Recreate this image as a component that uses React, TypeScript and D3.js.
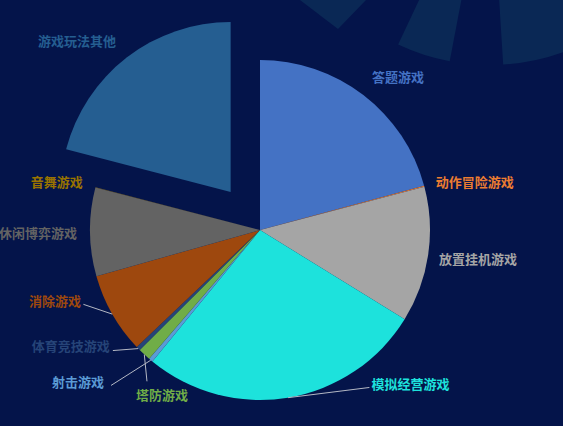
import React from 'react';
import * as d3 from 'd3';

// ---- data ----
const categories = ['答题游戏', '动作冒险游戏', '放置挂机游戏', '模拟经营游戏', '射击游戏', '塔防游戏', '体育竞技游戏', '消除游戏', '休闲博弈游戏', '音舞游戏', '游戏玩法其他'];
const values = [20.8, 0.1, 12.9, 27.1, 0.4, 1.2, 0.4, 7.7, 8.4, 0.03, 20.95];
const colors = ['#4472c4', '#ed7d31', '#a5a5a5', '#1de2dc', '#5b9bd5', '#70ad47', '#264478', '#9e480e', '#636363', '#997300', '#255e91'];
const selectedCategory = '游戏玩法其他';

// ---- layout ----
const W = 563, H = 426, CX = 260, CY = 230, R = 170, EXPLODE = 48, LABEL_GAP = 14;
const BG = '#04144a';
const labelShift: [number, number][] = [
  [0, -7], [-2, -1], [-3, 1], [81, -28], [-37.7, 10.5], [53.2, 29.5], [-18.3, -12.5], [-19, -21], [1, 0], [1, -2], [-2, -6],
];
const leaderEnds: ([number, number] | null)[] = [
  null, null, null, [-2, 4], [7, 4], [-41, -13], [3, 4.7], [2.3, 4.3], null, null, null,
];

type Datum = { name: string; value: number; color: string };
const data: Datum[] = categories.map((name, i) => ({ name, value: values[i], color: colors[i] }));

export default function App() {
  const pie = d3.pie<Datum>().sort(null).value(d => d.value).startAngle(0).endAngle(2 * Math.PI);
  const arcs = pie(data);
  const arcGen = d3.arc<d3.PieArcDatum<Datum>>().innerRadius(0).outerRadius(R);

  // decorative background ring wedges
  const bgArc = d3.arc<any>().innerRadius(0).outerRadius(215);
  const deg = Math.PI / 180;
  const bgWedges = [
    { s: 190.8 * deg, e: 205.3 * deg },
    { s: 150 * deg, e: 176.5 * deg },
  ];

  const pt = (a: number, r: number) => [Math.sin(a) * r, -Math.cos(a) * r];

  return (
    <div style={{ position: 'fixed', left: 0, top: 0, width: W, height: H, background: BG }}>
      <svg width={W} height={H} style={{ display: 'block' }}>
        <rect width={W} height={H} fill={BG} />
        <g transform="translate(490,-150)">
          {bgWedges.map((w, i) => (
            <path key={i} d={bgArc({ startAngle: w.s, endAngle: w.e }) as string} fill="#0a2855" />
          ))}
        </g>
        <path d={d3.line()([[300, 0], [366, 0], [338, 29]]) + 'Z'} fill="#0a2855" />
        <g transform={`translate(${CX},${CY})`}>
          {arcs.map((a, i) => {
            const mid = (a.startAngle + a.endAngle) / 2;
            const off = a.data.name === selectedCategory ? pt(mid, EXPLODE) : [0, 0];
            return (
              <path key={i} d={arcGen(a) as string} fill={a.data.color}
                transform={`translate(${off[0]},${off[1]})`} />
            );
          })}
          {arcs.map((a, i) => {
            const mid = (a.startAngle + a.endAngle) / 2;
            const off = a.data.name === selectedCategory ? pt(mid, EXPLODE) : [0, 0];
            const p = pt(mid, R + LABEL_GAP);
            const side = Math.sin(mid) >= 0 ? 1 : -1;
            const tx = p[0] + off[0] + labelShift[i][0];
            const ty = p[1] + off[1] + labelShift[i][1];
            const le = leaderEnds[i];
            const e = pt(mid, R);
            return (
              <g key={'l' + i}>
                {le && (
                  <path d={d3.line()([[e[0] + off[0], e[1] + off[1]], [tx + le[0], ty + le[1]]]) as string}
                    stroke="#b4b8c4" strokeWidth={1} fill="none" />
                )}
                <text x={tx} y={ty} textAnchor={side > 0 ? 'start' : 'end'} dominantBaseline="central"
                  fill={a.data.color} fontSize={13} fontWeight="bold"
                  fontFamily='"Noto Sans CJK SC", "Noto Sans", sans-serif'>
                  {a.data.name}
                </text>
              </g>
            );
          })}
        </g>
      </svg>
    </div>
  );
}
